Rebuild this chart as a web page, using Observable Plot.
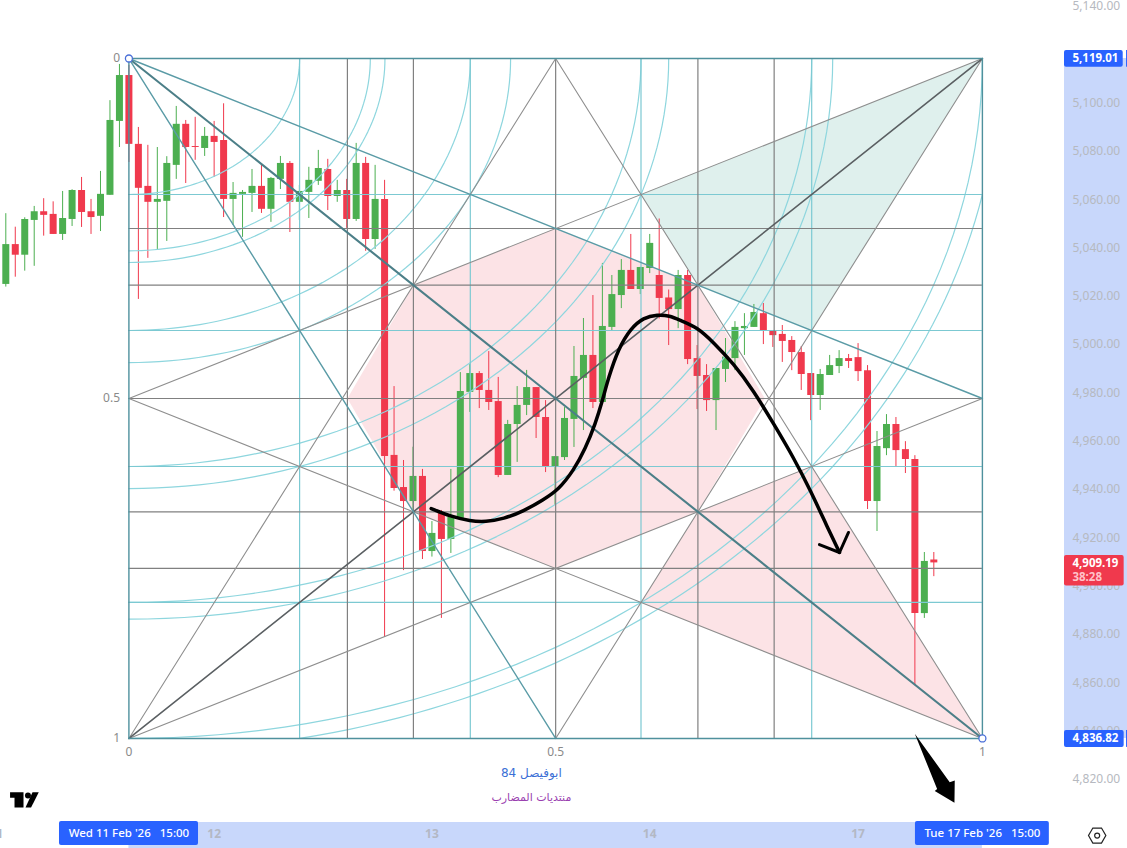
<!DOCTYPE html>
<html><head><meta charset="utf-8">
<script src="https://cdn.jsdelivr.net/npm/d3@7"></script>
<script src="https://cdn.jsdelivr.net/npm/@observablehq/plot@0.6"></script>
<style>html,body{margin:0;padding:0;background:#fff;overflow:hidden}svg{display:block}</style>
</head><body><div id="chart"></div>
<script>
const open = [5024.5,5041.0,5036.6,5051.0,5054.6,5053.5,5045.2,5051.4,5063.4,5054.6,5052.7,5061.4,5092.0,5111.0,5082.5,5065.1,5058.5,5058.9,5073.8,5090.8,5081.6,5080.8,5085.8,5084.1,5059.7,5061.8,5062.2,5065.1,5055.6,5068.0,5074.6,5058.5,5062.6,5067.2,5072.1,5060.9,5063.4,5051.4,5074.6,5043.1,5059.7,4953.7,4940.4,4934.6,4945.0,4913.9,4929.6,4918.9,4927.2,4979.8,4987.6,4980.6,4976.0,4945.4,4966.5,4974.4,4981.8,4969.4,4949.1,4952.8,4968.6,4985.6,4995.1,4975.6,5006.7,5019.9,5030.3,5022.4,5031.1,5028.2,5018.9,5014.1,5028.2,4993.8,4986.8,4976.4,4989.3,4993.8,5006.2,5006.7,5012.4,5005.4,5003.8,5001.3,4996.3,4987.6,4978.5,4986.8,4990.5,4993.8,4994.2,4988.8,4934.6,4956.5,4966.5,4956.1,4952.0,4888.2,4910.4];
const high = [5053.8,5048.2,5052.1,5056.8,5060.0,5058.7,5063.0,5063.7,5068.8,5059.7,5071.3,5100.6,5115.6,5115.2,5089.5,5082.1,5081.2,5077.4,5098.2,5092.4,5093.7,5089.5,5092.0,5099.3,5066.7,5063.4,5072.1,5073.8,5068.8,5077.5,5075.4,5065.5,5073.0,5080.0,5076.3,5067.6,5068.0,5082.9,5077.1,5073.8,5067.6,4982.2,4951.6,4957.1,4947.9,4926.3,4930.9,4947.9,4988.0,4991.3,4988.4,4996.7,4986.0,4968.2,4982.2,4988.9,4981.8,4976.4,4953.2,4973.5,4998.8,5010.4,5019.9,5033.2,5028.2,5034.8,5045.2,5031.6,5045.2,5051.6,5022.2,5030.3,5030.3,4999.2,4991.3,4989.7,5002.1,5009.1,5012.4,5016.2,5016.6,5005.4,5007.5,5002.9,4998.8,4987.6,4989.3,4995.1,4997.1,4995.5,5000.0,4990.9,4963.6,4970.6,4969.4,4959.4,4953.6,4913.5,4913.5];
const low = [5023.4,5027.5,5030.0,5032.0,5044.5,5045.2,5042.7,5048.5,5048.1,5045.2,5046.4,5061.4,5081.2,5075.0,5018.3,5035.3,5038.6,5042.3,5068.0,5066.3,5075.9,5077.5,5068.8,5052.2,5048.9,5044.0,5054.3,5053.9,5050.2,5063.8,5046.0,5051.0,5051.8,5065.5,5055.1,5058.5,5047.7,5050.6,5038.2,5039.0,4878.3,4938.9,4906.0,4930.9,4910.6,4911.6,4886.2,4913.1,4926.8,4971.5,4973.1,4972.3,4944.5,4945.4,4950.8,4970.2,4960.7,4946.6,4933.0,4951.6,4957.0,4964.0,4973.1,4975.6,5005.4,5014.5,5022.4,5020.3,5029.0,5010.2,4999.2,5006.2,4991.3,4972.7,4971.9,4964.0,4983.9,4988.8,4995.1,5006.7,4999.6,4998.4,4992.2,4988.8,4980.6,4968.1,4972.3,4986.8,4987.6,4989.7,4984.3,4931.3,4922.2,4953.6,4949.1,4946.2,4858.4,4886.2,4903.5];
const close = [5041.0,5036.6,5051.4,5054.6,5053.1,5045.2,5051.8,5063.4,5054.3,5052.2,5061.8,5092.4,5111.0,5082.5,5064.3,5058.5,5059.7,5074.6,5090.8,5081.2,5081.2,5085.8,5083.3,5059.7,5062.2,5062.6,5065.1,5055.6,5068.4,5074.6,5058.5,5063.0,5067.6,5072.5,5060.9,5063.4,5051.4,5074.6,5043.1,5059.7,4953.2,4940.0,4934.6,4945.0,4913.9,4921.4,4918.9,4928.0,4980.2,4987.6,4980.6,4975.6,4945.4,4966.5,4974.4,4981.8,4969.4,4949.1,4953.2,4969.0,4986.4,4995.1,4975.6,5007.1,5020.3,5030.3,5022.4,5031.5,5041.5,5018.7,5014.1,5028.2,4993.4,4986.4,4976.4,4989.7,4994.4,5006.7,5007.1,5012.9,5005.4,5003.3,5000.9,4996.3,4987.2,4978.5,4987.2,4990.9,4993.8,4992.6,4988.4,4934.6,4957.4,4966.5,4955.7,4952.0,4888.2,4909.8,4909.19];

// Drawn arrow (bar index, price)
const strokeBar = [44.92,46.96,49.07,50.66,52.56,54.67,56.78,58.36,59.95,61.21,62.27,63.01,63.64,64.7,65.97,67.34,68.82,70.09,71.25,73.04,74.73,76.84,78.95,81.07,83.18,84.97,86.77,88.04];
const strokePrice = [4931.7,4928.4,4926.5,4926.2,4927.4,4930.6,4935.4,4939.5,4947.4,4956.6,4966.9,4976.4,4985.9,4998.0,5006.2,5010.8,5012.0,5011.6,5009.6,5006.7,5000.5,4991.8,4980.6,4966.9,4952.9,4939.2,4923.9,4913.5];
const headBar = [85.92,88.04,88.99];
const headPrice = [4916.8,4913.5,4921.8];
const bigArrowBar = [95.99,98.35,98.10,100.18,100.21,99.68];
const bigArrowPrice = [4838.4,4815.6,4814.7,4809.9,4819.1,4818.4];

// Gann box
const box = {b0: 13, b1: 103.13, p0: 5118.05, p1: 4836.5};
const cyanLevels = [0.2,0.4,0.6,0.8];
const grayColumns = [0.256,1/3,0.5,2/3,0.756];
const grayRows = [0.25,1/3,0.5,2/3,0.75];
const arcRadii = [0.2,Math.sqrt(0.08),0.3,0.4,Math.sqrt(0.2),0.6,Math.sqrt(0.4),0.8,Math.sqrt(0.68),1,Math.sqrt(1.04)];
const t = 1/3;
const pinkPolys = [
  [[.256,.5],[t,t],[.5,.25],[2*t,t],[.745,.5],[2*t,2*t],[.5,.75],[t,2*t]],
  [[.6,.8],[2*t,2*t],[.8,.6],[1,1]]
];
const tealPolys = [[[.6,.2],[1,0],[.8,.4],[2*t,t]]];
const tealFan = [[0,0,1,.5],[0,0,.5,1]];
const grayFan = [[0,1,1,.5],[0,1,.5,0],[1,0,0,.5],[1,0,.5,1],[1,1,0,.5],[1,1,.5,0]];
const borders = [[0,0,1,0],[1,0,1,1],[1,1,0,1],[0,1,0,0]];

// Axes
const priceTicks = [5140,5100,5080,5060,5040,5020,5000,4980,4960,4940,4920,4900,4880,4860,4840,4820];
const dayTicks = [-1,22,45,68,90];
const dayLabels = ["11","12","13","14","17"];
const bandColor = "#c8d7fb", blue = "#2962ff", red = "#f0394d", green = "#4caf50";

const ux = u => box.b0 + u*(box.b1-box.b0);
const vy = v => box.p0 + v*(box.p1-box.p0);
const bars = open.map((o,i)=>({i,o,h:high[i],l:low[i],c:close[i],col:close[i]>=o?green:red}));
const poly = (pts,fill)=>Plot.line(pts,{x:d=>ux(d[0]),y:d=>vy(d[1]),fill,stroke:"none"});
const seg = (s,stroke,strokeWidth)=>Plot.line([[s[0],s[1]],[s[2],s[3]]],{x:d=>ux(d[0]),y:d=>vy(d[1]),stroke,strokeWidth});
const arcPoints = r=>{const m=r>1?Math.acos(1/r):0;return d3.range(0,61).map(k=>{const a=m+(Math.PI/2-2*m)*k/60;return [r*Math.cos(a),r*Math.sin(a)];});};
const filled = (xs,ys,fill)=>Plot.line(xs.map((x,i)=>({x,y:ys[i]})),{x:"x",y:"y",fill,stroke:"none"});
const txt = (s,x,y,o)=>Plot.text([s],{x:()=>x,y:()=>y,text:d=>d,...o});
const rect = (x1,x2,y1,y2,fill,rx=0)=>Plot.rect([0],{x1:()=>x1,x2:()=>x2,y1:()=>y1,y2:()=>y2,fill,rx});

const chart = Plot.plot({
  width:1127,height:848,marginLeft:0,marginTop:0,marginRight:63,marginBottom:26,
  style:{fontFamily:"'Noto Sans',sans-serif",fontSize:"12px",background:"#fff",color:"#222"},
  x:{type:"linear",domain:[-0.56,111.8]},
  y:{type:"linear",domain:[4801.7,5142.07]},
  marks:[
    rect(111.8,118.45,box.p0,box.p1,bandColor),
    rect(box.b0,box.b1,4801.7,4790.9,bandColor),
    ...pinkPolys.map(p=>poly(p,"#fce3e6")),
    ...tealPolys.map(p=>poly(p,"#dff0ed")),
    Plot.ruleX(bars,{x:"i",y1:"l",y2:"h",stroke:"col",strokeWidth:1}),
    Plot.ruleX(bars,{x:"i",y1:"o",y2:"c",stroke:"col",strokeWidth:7}),
    ...arcRadii.map(r=>Plot.line(arcPoints(r),{x:d=>ux(d[0]),y:d=>vy(d[1]),stroke:"#8ed6de",strokeWidth:1.2})),
    Plot.ruleX(cyanLevels,{x:ux,y1:box.p0,y2:box.p1,stroke:"#7cc9d2",strokeWidth:1.2}),
    Plot.ruleY(cyanLevels,{y:vy,x1:box.b0,x2:box.b1,stroke:"#7cc9d2",strokeWidth:1.2}),
    Plot.ruleX(grayColumns,{x:ux,y1:box.p0,y2:box.p1,stroke:"#808080",strokeWidth:1.2}),
    Plot.ruleY(grayRows,{y:vy,x1:box.b0,x2:box.b1,stroke:"#808080",strokeWidth:1.2}),
    ...grayFan.map(s=>seg(s,"#8e8e8e",1.1)),
    seg([0,1,1,0],"#5a5f62",1.6),
    ...tealFan.map(s=>seg(s,"#5a9ba6",1.4)),
    seg([0,0,1,1],"#4c7f88",2.1),
    ...borders.map(s=>seg(s,"#4f919d",1.4)),
    Plot.line(strokeBar.map((x,i)=>({x,y:strokePrice[i]})),{x:"x",y:"y",stroke:"#000",strokeWidth:3.5,curve:"basis"}),
    Plot.line(headBar.map((x,i)=>({x,y:headPrice[i]})),{x:"x",y:"y",stroke:"#000",strokeWidth:3}),
    filled(bigArrowBar,bigArrowPrice,"#000"),
    Plot.dot([[0,0],[1,1]],{x:d=>ux(d[0]),y:d=>vy(d[1]),r:3.5,fill:"#fff",stroke:"#4a6fd8",strokeWidth:1.3}),
    // fan ratio labels
    txt("0",12.06,box.p0,{textAnchor:"end",fill:"#8a8a8a"}),
    txt("0.5",12.06,vy(.5),{textAnchor:"end",fill:"#8a8a8a"}),
    txt("1",12.06,box.p1,{textAnchor:"end",fill:"#8a8a8a"}),
    txt("0",ux(0),4830.7,{fill:"#8a8a8a"}),
    txt("0.5",ux(.5),4830.7,{fill:"#8a8a8a"}),
    txt("1",ux(1),4830.7,{fill:"#8a8a8a"}),
    // axes
    Plot.axisY(priceTicks,{anchor:"right",label:null,tickSize:0,tickPadding:8,dy:1,tickFormat:d3.format(",.2f"),color:"#b6b9c0"}),
    Plot.axisX(dayTicks,{anchor:"bottom",label:null,tickSize:0,tickPadding:7,tickFormat:d=>dayLabels[dayTicks.indexOf(d)],color:"#b3b8c4",fontWeight:"bold"}),
    // value boxes
    rect(111.8,118.0,5121.37,5114.45,blue,2),
    rect(118.35,118.45,5121.37,5114.45,blue),
    txt("5,119.01",112.64,box.p0,{textAnchor:"start",fill:"#fff",fontWeight:"bold",fontSize:11.5}),
    rect(111.8,118.1,4839.8,4832.8,blue,2),
    rect(118.35,118.45,4839.8,4832.8,blue),
    txt("4,836.82",112.64,box.p1,{textAnchor:"start",fill:"#fff",fontWeight:"bold",fontSize:11.5}),
    rect(111.8,118.1,4912.3,4899.6,red,2),
    txt("4,909.19",112.64,4909.1,{textAnchor:"start",fill:"#fff",fontWeight:"bold",fontSize:11.5}),
    txt("38:28",112.64,4903.2,{textAnchor:"start",fill:"#ffc2c9",fontWeight:"bold",fontSize:11.5}),
    // date boxes
    rect(5.67,20.35,4802.1,4792.2,blue,2),
    txt("Wed 11 Feb '26   15:00",13,4797.1,{fill:"#fff",textAnchor:"middle",fontWeight:"500",fontSize:11.5}),
    rect(96.06,110.2,4802.1,4792.2,blue,2),
    txt("Tue 17 Feb '26   15:00",103.13,4797.1,{fill:"#fff",textAnchor:"middle",fontWeight:"500",fontSize:11.5}),
    // author notes
    txt("ابوفيصل 84",55.5,4822,{fill:"#3b6fd6",fontFamily:"'DejaVu Sans'",fontSize:12}),
    txt("منتديات المضارب",55.5,4812,{fill:"#9a3fb0",fontFamily:"'DejaVu Sans'",fontSize:11}),
    // logo
    filled([0.45,1.87,1.87,0.92,0.92,0.45],[4814.2,4814.2,4807.9,4807.9,4811.9,4811.9],"#000"),
    filled([2.82,3.48,2.67,2.08],[4814.2,4814.2,4807.9,4807.9],"#000"),
    Plot.dot([0],{x:()=>2.34,y:()=>4812.9,r:3,fill:"#000"}),
    // settings glyph
    Plot.dot([0],{x:()=>115.25,y:()=>4796.3,r:7.5,symbol:"hexagon",rotate:90,fill:"none",stroke:"#222",strokeWidth:1.2}),
    Plot.dot([0],{x:()=>115.25,y:()=>4796.3,r:2.5,fill:"none",stroke:"#222",strokeWidth:1.2})
  ]
});
document.getElementById("chart").append(chart);
</script></body></html>
